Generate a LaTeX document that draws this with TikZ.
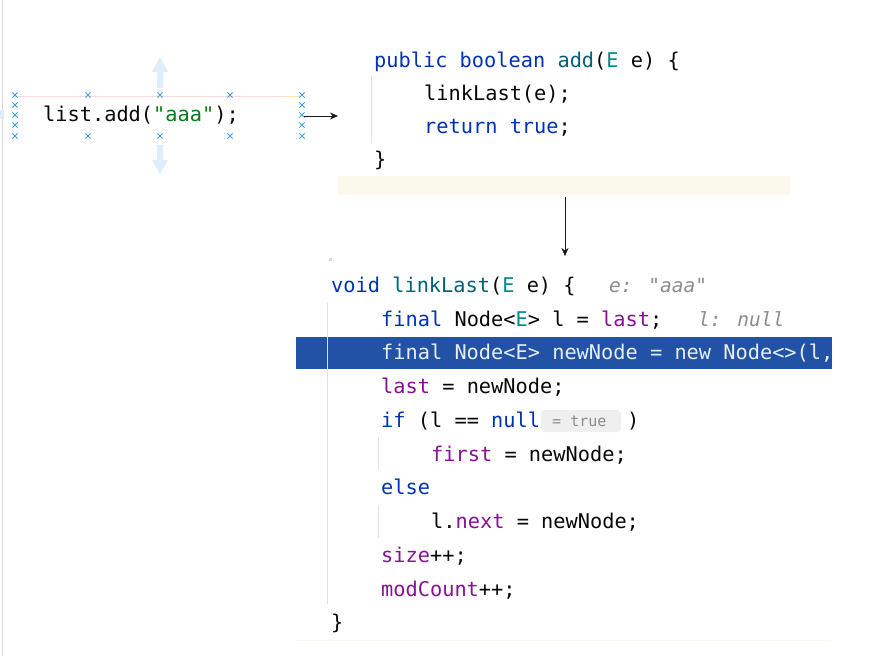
\documentclass[tikz,border=0pt]{standalone}
\usepackage{fontspec}
\usepackage{xcolor}
\usetikzlibrary{arrows.meta}
\newfontfamily\codefont{DejaVu Sans Mono}
\definecolor{ckwc}{HTML}{0033B3}
\definecolor{cfnc}{HTML}{00627A}
\definecolor{ctpc}{HTML}{008A8A}
\definecolor{cfldc}{HTML}{871094}
\definecolor{cstrc}{HTML}{067D17}
\definecolor{ctxt}{HTML}{080808}
\definecolor{chintc}{HTML}{8C8C8C}
\definecolor{guide}{HTML}{E2E2E2}
\definecolor{hlbar}{HTML}{2152A6}
\definecolor{hltext}{HTML}{E8EDF6}
\definecolor{cream}{HTML}{FBF8EC}
\definecolor{handle}{HTML}{3A9FDF}
\definecolor{ghost}{HTML}{DCEEFB}
\definecolor{hintbox}{HTML}{EFEFEF}
\newcommand\ckw[1]{\textcolor{ckwc}{#1}}
\newcommand\cfn[1]{\textcolor{cfnc}{#1}}
\newcommand\ctp[1]{\textcolor{ctpc}{#1}}
\newcommand\cfld[1]{\textcolor{cfldc}{#1}}
\newcommand\cstr[1]{\textcolor{cstrc}{#1}}
\begin{document}
\begin{tikzpicture}[x=1pt,y=-1pt,
  code/.style={inner sep=0pt,anchor=base west,text=ctxt,font=\codefont\fontsize{20.3}{24}\selectfont},
  hinttext/.style={code,text=chintc,font=\codefont\itshape\fontsize{19.5}{24}\selectfont},
  guideline/.style={draw=guide,line width=1pt},
  hmark/.style={handle,line width=0.9pt},
  ghostarrow/.style={fill=ghost,draw=none},
  conn/.style={-{Stealth[length=8pt,width=7pt]},line width=0.9pt,draw=black!90}]
\useasboundingbox (0,0) rectangle (894,656);
\fill[white] (0,0) rectangle (894,656);
% left border line
\draw[draw=black!15,line width=0.8pt] (2.5,0) -- (2.5,656);

% ---- selected statement ----
\draw[draw=red!15,line width=0.8pt] (15,96) -- (285,96);
\draw[draw=yellow!40!orange!30,line width=0.8pt] (285,96) -- (300,96);
\fill[ghostarrow] (157,88) -- (157,72) -- (152,72) -- (160,57) -- (168,72) -- (163,72) -- (163,88) -- cycle;
\fill[ghostarrow] (157,145) -- (157,160) -- (152,160) -- (160,174) -- (168,160) -- (163,160) -- (163,145) -- cycle;
\fill[ghost] (0,110) rectangle (4,119);
\foreach \px/\py in {15/95,15/105,15/115,15/125,15/136,88/95,160/95,230/95,302/95,88/136,160/136,230/136,302/136,302/105,302/115,302/125}{
  \draw[hmark] (\px-2.6,\py-2.6) -- (\px+2.6,\py+2.6) (\px-2.6,\py+2.6) -- (\px+2.6,\py-2.6);
}
\node[code] (call) at (43,121) {list.add(\cstr{"aaa"});};
\coordinate (callout) at (304,116);

% ---- add method ----
\fill[cream] (338,176) rectangle (790,195);
\coordinate (addin) at (338,116);
\coordinate (addout) at (565,197);
\draw[guideline] (371,76) -- (371,143);
\node[code] (a1) at (374,67) {\ckw{public boolean} \cfn{add}(\ctp{E} e) \{};
\node[code] (a2) at (424,100) {linkLast(e);};
\node[code] (a3) at (424,133) {\ckw{return true};};
\node[code] (a4) at (374,166) {\}};

\draw[conn] (callout) -- (addin);
\draw[conn] (addout) -- (565,256) coordinate (llin);

% ---- linkLast ----
\fill[black!15] (329,258) rectangle (332,261);
\fill[hlbar] (296,337) rectangle (832,369);
\draw[draw=cream,line width=0.8pt] (296,640) -- (831,640);
\draw[guideline] (327,303) -- (327,604);
\draw[guideline] (378,437) -- (378,470);
\draw[guideline] (378,505) -- (378,538);
\node[code] (b1) at (331,292.5) {\ckw{void} \cfn{linkLast}(\ctp{E} e) \{};
\node[hinttext] (h1) at (609,292.5) {e: "aaa"};
\node[code] (b2) at (381,326.5) {\ckw{final} Node<\ctp{E}> l = \cfld{last};};
\node[hinttext] (h2) at (698,326.5) {l: null};
\begin{scope}
\clip (296,337) rectangle (831,369);
\node[code,text=hltext] (b3) at (381,359.5) {final Node<E> newNode = new Node<>(l,};
\end{scope}
\node[code] (b4) at (381,393.5) {\cfld{last} = newNode;};
\node[code] (b5) at (381,427.5) {\ckw{if} (l == \ckw{null}};
\fill[hintbox,rounded corners=4pt] (541,410) rectangle (621,432);
\node[code,text=chintc,font=\codefont\fontsize{15}{18}\selectfont] (h3) at (552,426) {= true};
\node[code] (b5b) at (627,427.5) {)};
\node[code] (b6) at (431,461.5) {\cfld{first} = newNode;};
\node[code] (b7) at (381,494.5) {\ckw{else}};
\node[code] (b8) at (431,528.5) {l.\cfld{next} = newNode;};
\node[code] (b9) at (381,562.5) {\cfld{size}++;};
\node[code] (b10) at (381,596.5) {\cfld{modCount}++;};
\node[code] (b11) at (331,629.5) {\}};
\end{tikzpicture}
\end{document}
